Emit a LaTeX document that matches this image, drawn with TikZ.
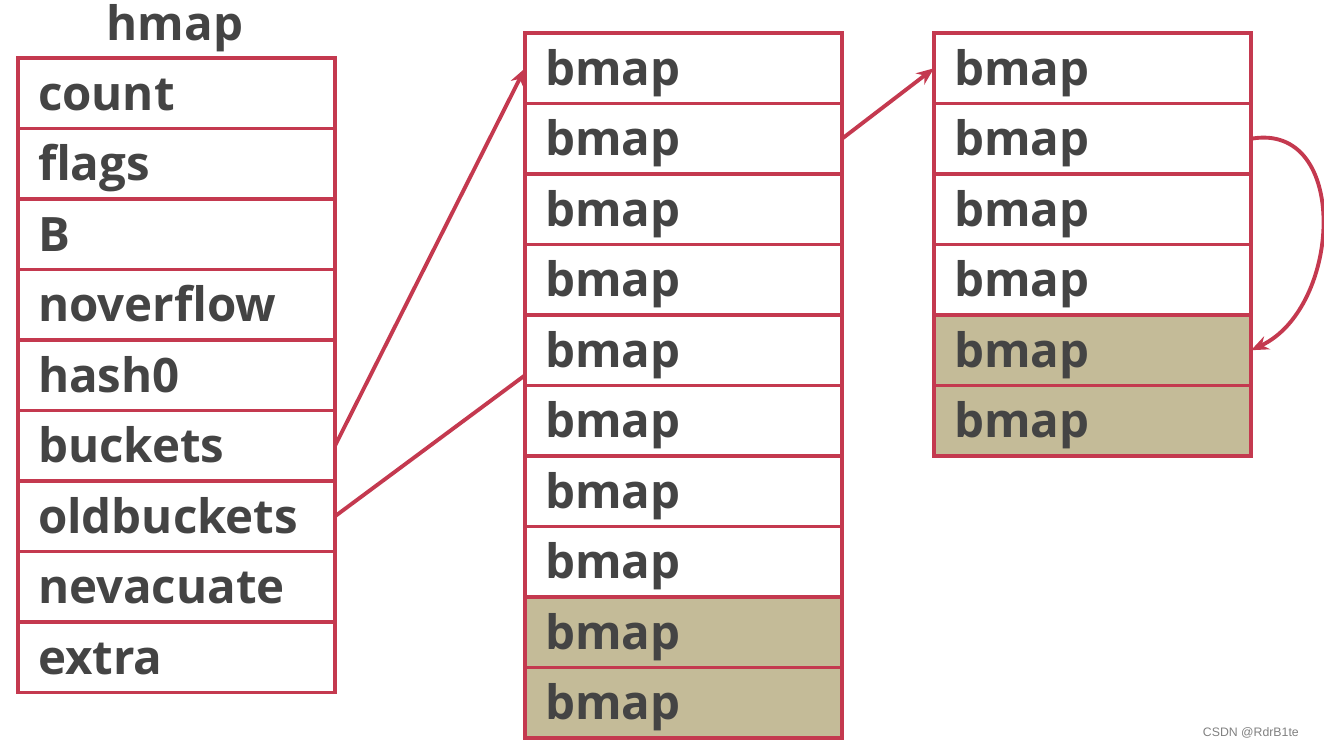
\documentclass[tikz,border=0pt]{standalone}
\usepackage{fontspec}
\setmainfont{Open Sans}
\newfontfamily\marksans{Liberation Sans}
\usetikzlibrary{arrows.meta, positioning}
\definecolor{boxred}{HTML}{C4394F}
\definecolor{oldtan}{HTML}{C4BB98}
\definecolor{labelgray}{HTML}{444444}

\begin{document}
\begin{tikzpicture}[>={Stealth[length=10pt, width=8pt]},
  font=\fontsize{27}{30}\selectfont\bfseries,
  field/.style={draw=boxred, line width=2.2pt, outer sep=0pt,
    minimum width=6.34cm, minimum height=1.41cm, inner xsep=0.4cm,
    inner ysep=0pt, text width=5.54cm, text height=0.8cm,
    text depth=0.12cm, text=labelgray},
  evac/.style={field, fill=oldtan},
  link/.style={draw=boxred, line width=2.2pt}]
  \useasboundingbox (0,0) rectangle (26.48,-14.98);

  % hmap header struct
  \node[text=labelgray, anchor=base] (title) at (3.5,-0.8) {hmap};
  \node[field, anchor=north west] (count) at (0.36,-1.16) {count};
  \node[field, below=0pt of count] (flags) {flags};
  \node[field, below=0pt of flags] (bfield) {B};
  \node[field, below=0pt of bfield] (noverflow) {noverflow};
  \node[field, below=0pt of noverflow] (hashzero) {hash0};
  \node[field, below=0pt of hashzero] (buckets) {buckets};
  \node[field, below=0pt of buckets] (oldbuckets) {oldbuckets};
  \node[field, below=0pt of oldbuckets] (nevacuate) {nevacuate};
  \node[field, below=0pt of nevacuate] (extra) {extra};

  % bucket array
  \node[field, anchor=north west] (m1) at (10.5,-0.66) {bmap};
  \node[field, below=0pt of m1] (m2) {bmap};
  \node[field, below=0pt of m2] (m3) {bmap};
  \node[field, below=0pt of m3] (m4) {bmap};
  \node[field, below=0pt of m4] (m5) {bmap};
  \node[field, below=0pt of m5] (m6) {bmap};
  \node[field, below=0pt of m6] (m7) {bmap};
  \node[field, below=0pt of m7] (m8) {bmap};
  \node[evac, below=0pt of m8] (m9) {bmap};
  \node[evac, below=0pt of m9] (m10) {bmap};

  % overflow chain
  \node[field, anchor=north west] (r1) at (18.68,-0.66) {bmap};
  \node[field, below=0pt of r1] (r2) {bmap};
  \node[field, below=0pt of r2] (r3) {bmap};
  \node[field, below=0pt of r3] (r4) {bmap};
  \node[evac, below=0pt of r4] (r5) {bmap};
  \node[evac, below=0pt of r5] (r6) {bmap};

  % pointers
  \draw[link, ->] (buckets.east) -- (m1.west);
  \draw[link] (oldbuckets.east) -- ([yshift=-0.5cm]m5.west);
  \draw[link, ->] (m2.east) -- (r1.west);
  \draw[link, ->] (r2.east) to[out=10, in=25, looseness=1.22] (r5.east);

  \node[font=\marksans\fontsize{7}{8}\selectfont, text=gray, anchor=base east]
    (mark) at (26.1,-14.72) {CSDN @RdrB1te};
\end{tikzpicture}
\end{document}
